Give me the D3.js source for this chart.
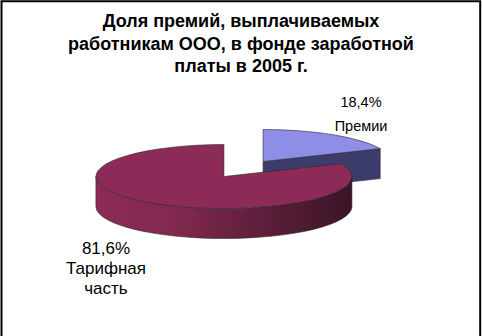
<html lang="ru">
<head>
    <meta charset="utf-8">
    <title>Доля премий</title>
    <style>
        body {
            margin: 0;
            background: #fff;
        }

        svg text {
            font-family: "Liberation Sans", Arial, sans-serif;
            fill: #000;
        }

        .title {
            font-weight: bold;
            font-size: 18px;
        }

        .label {
            font-size: 14.5px;
        }

        .label.big {
            font-size: 17px;
        }
    </style>
</head>
<body>
<div id="chart"></div>
<script src="https://d3js.org/d3.v7.min.js"></script>
<script>
    const titleLines = ["Доля премий, выплачиваемых", "работникам ООО, в фонде заработной", "платы в 2005 г."];
    const categories = ["Премии", "Тарифная часть"];
    const values = [18.4, 81.6];
    const percentLabels = ["18,4%", "81,6%"];
    const nameLines = [["Премии"], ["Тарифная", "часть"]];
    const topColors = ["#8e8ee9", "#8c2b57"];
    const sideColors = ["#3c3c6c", "#3a1426"];

    const width = 482;
    const height = 336;

    const svg = d3.select("#chart").append("svg")
        .attr("width", width)
        .attr("height", height);

    // frame (bottom edge is cut off in the original)
    svg.append("path")
        .attr("d", "M1.5," + (height + 2) + "V1.2H480.2V" + (height + 2))
        .attr("fill", "none")
        .attr("stroke", "#000")
        .attr("stroke-width", 2);

    svg.append("g")
        .selectAll("text")
        .data(titleLines)
        .enter().append("text")
        .attr("class", "title")
        .attr("x", 241)
        .attr("y", (d, i) => 27 + i * 22.5)
        .attr("text-anchor", "middle")
        .text(d => d);

    // pie geometry
    const cx = 243.5, cy = 169;
    const rx = 128, ry = 32, depth = 30;
    const explode = 0.28;

    const pie = d3.pie().sort(null).startAngle(0).endAngle(2 * Math.PI);
    const arcs = pie(values).map((a, i) => {
        const mid = (a.startAngle + a.endAngle) / 2;
        return Object.assign(a, {
            i: i,
            ox: cx + explode * rx * Math.sin(mid),
            oy: cy - explode * ry * Math.cos(mid)
        });
    });

    function pt(a, t, dy) {
        return [a.ox + rx * Math.sin(t), a.oy - ry * Math.cos(t) + (dy || 0)];
    }

    function topPath(a) {
        const p0 = pt(a, a.startAngle), p1 = pt(a, a.endAngle);
        const large = a.endAngle - a.startAngle > Math.PI ? 1 : 0;
        return "M" + a.ox + "," + a.oy + "L" + p0 + "A" + rx + "," + ry + " 0 " + large + " 1 " + p1 + "Z";
    }

    function outerPath(a) {
        const s = Math.max(a.startAngle, Math.PI / 2);
        const e = Math.min(a.endAngle, 3 * Math.PI / 2);
        if (e <= s) return null;
        const large = e - s > Math.PI ? 1 : 0;
        return "M" + pt(a, s) + "A" + rx + "," + ry + " 0 " + large + " 1 " + pt(a, e) +
            "L" + pt(a, e, depth) + "A" + rx + "," + ry + " 0 " + large + " 0 " + pt(a, s, depth) + "Z";
    }

    function cutPath(a, t) {
        const p = pt(a, t);
        return "M" + a.ox + "," + a.oy + "L" + p + "L" + [p[0], p[1] + depth] +
            "L" + a.ox + "," + (a.oy + depth) + "Z";
    }

    const defs = svg.append("defs");
    const grad = defs.append("linearGradient")
        .attr("id", "side-grad")
        .attr("x1", "0").attr("x2", "1").attr("y1", "0").attr("y2", "0");
    grad.append("stop").attr("offset", "0").attr("stop-color", topColors[1]);
    grad.append("stop").attr("offset", "0.3").attr("stop-color", "#82294f");
    grad.append("stop").attr("offset", "1").attr("stop-color", sideColors[1]);

    const pieG = svg.append("g")
        .attr("stroke", "#2a2a2a")
        .attr("stroke-width", 0.6)
        .attr("stroke-linejoin", "round");

    // back slices first
    arcs.slice().sort((a, b) => a.oy - b.oy).forEach(a => {
        const g = pieG.append("g");
        if (Math.sin(a.endAngle) > 0.001) {
            g.append("path").attr("d", cutPath(a, a.endAngle)).attr("fill", sideColors[a.i]);
        }
        if (Math.sin(a.startAngle) < -0.001) {
            g.append("path").attr("d", cutPath(a, a.startAngle)).attr("fill", sideColors[a.i]);
        }
        const op = outerPath(a);
        if (op) {
            g.append("path").attr("d", op).attr("fill", a.i === 1 ? "url(#side-grad)" : sideColors[a.i]);
        }
        g.append("path").attr("d", topPath(a)).attr("fill", topColors[a.i]);
    });

    // data labels
    const labelPos = [[361, 107, 24], [106, 254, 20]];
    arcs.forEach(a => {
        const lines = [percentLabels[a.i]].concat(nameLines[a.i]);
        const lp = labelPos[a.i];
        svg.append("g")
            .selectAll("text")
            .data(lines)
            .enter().append("text")
            .attr("class", a.i === 1 ? "label big" : "label")
            .attr("x", lp[0])
            .attr("y", (d, j) => lp[1] + j * lp[2])
            .attr("text-anchor", "middle")
            .text(d => d);
    });
</script>
</body>
</html>
